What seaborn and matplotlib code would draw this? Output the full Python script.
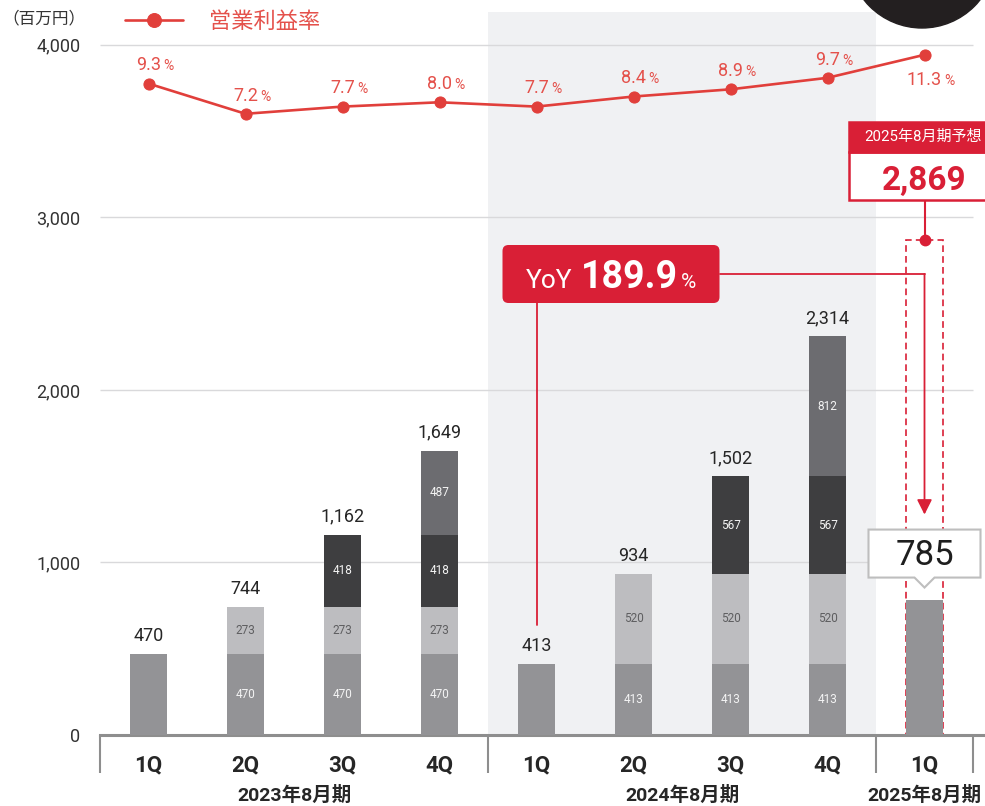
import numpy as np
import pandas as pd
import matplotlib
matplotlib.use("Agg")
import matplotlib.pyplot as plt
import seaborn as sns
from matplotlib.patches import FancyBboxPatch, Rectangle, Polygon, Ellipse
from matplotlib.transforms import Affine2D, blended_transform_factory

# ---------------- data ----------------
fiscal_years = ["2023年8月期", "2024年8月期", "2025年8月期"]
period_year = [0, 0, 0, 0, 1, 1, 1, 1, 2]
quarter_labels = ["1Q", "2Q", "3Q", "4Q", "1Q", "2Q", "3Q", "4Q", "1Q"]
period_keys = [f"{fiscal_years[y]} {q}" for y, q in zip(period_year, quarter_labels)]

# operating income contributed by each quarter (cumulative bars, 百万円)
seg_q1 = [470, 470, 470, 470, 413, 413, 413, 413, 785]
seg_q2 = [0, 273, 273, 273, 0, 520, 520, 520, 0]
seg_q3 = [0, 0, 418, 418, 0, 0, 567, 567, 0]
seg_q4 = [0, 0, 0, 487, 0, 0, 0, 812, 0]
cumulative_totals = [470, 744, 1162, 1649, 413, 934, 1502, 2314, 785]

margin_pct = [9.3, 7.2, 7.7, 8.0, 7.7, 8.4, 8.9, 9.7, 11.3]
forecast_fy25 = 2869
yoy_growth = 189.9

# ---------------- style ----------------
COL_Q1, COL_Q2, COL_Q3, COL_Q4 = "#939396", "#BDBDC0", "#3E3E40", "#6C6C70"
LINE_RED = "#E13F3B"
LABEL_RED = "#E4514B"
BOX_RED = "#D91F36"
AXIS_GRAY = "#8E8E8E"
TEXT_DARK = "#262626"

sns.set_style("white")
plt.rcParams["font.family"] = ["Roboto", "Noto Sans CJK JP", "DejaVu Sans"]

FIG_W, FIG_H = 985, 806
fig = plt.figure(figsize=(FIG_W / 100, FIG_H / 100), dpi=100)
AX_L, AX_B, AX_W, AX_H = 100, 71, 885, 735
ax = fig.add_axes([AX_L / FIG_W, AX_B / FIG_H, AX_W / FIG_W, AX_H / FIG_H])

YTOP = 4260
XLIM = (-0.5, -0.5 + AX_W / 97)
PX_X = (XLIM[1] - XLIM[0]) / AX_W   # data units per pixel
PX_Y = YTOP / AX_H

# margin axis: 0 % sits at 3,000 on the main scale, 1 pt = 83.4 units
PCT_BASE, PCT_UNIT = 3000, 83.4

# ---------------- bars ----------------
df = pd.DataFrame({"period": period_keys, "q1": seg_q1, "q2": seg_q2,
                   "q3": seg_q3, "q4": seg_q4})
df["c1"] = df["q1"]
df["c2"] = df["c1"] + df["q2"]
df["c3"] = df["c2"] + df["q3"]
df["c4"] = df["c3"] + df["q4"]

# fiscal 2024 band
ax.add_patch(Rectangle((3.5, 0), 4, 4190, fc="#F0F1F3", ec="none", zorder=0))
ax.hlines([1000, 2000, 3000, 4000], -0.5, 8.5, color="#D9D9DB", lw=1, zorder=1)

# forecast outline
n_before = len(ax.patches)
fc_df = pd.DataFrame({"period": [period_keys[8]], "value": [forecast_fy25]})
sns.barplot(data=fc_df, x="period", y="value", order=period_keys, color=BOX_RED,
            width=0.39, errorbar=None, saturation=1, fill=False, ax=ax, zorder=2.5)
for p in ax.patches[n_before:]:
    p.set_facecolor("none")
    p.set_edgecolor(BOX_RED)
    p.set_linewidth(1.2)
    p.set_linestyle((0, (4, 2.5)))

for col, colr in [("c4", COL_Q4), ("c3", COL_Q3), ("c2", COL_Q2), ("c1", COL_Q1)]:
    sns.barplot(data=df, x="period", y=col, order=period_keys, color=colr,
                width=0.39, errorbar=None, saturation=1, linewidth=0, ax=ax, zorder=3)

ax.set_xlim(*XLIM)
ax.set_ylim(0, YTOP)
ax.set_xlabel("")
ax.set_ylabel("")

# segment labels inside multi-quarter bars
for i in range(len(period_keys)):
    segs = [seg_q1[i], seg_q2[i], seg_q3[i], seg_q4[i]]
    if sum(1 for s in segs if s > 0) < 2:
        continue
    base = 0
    for k, s in enumerate(segs):
        if s <= 0:
            continue
        ax.text(i, base + s / 2, f"{s}", ha="center", va="center", fontsize=8.5,
                color="#5E5E60" if k == 1 else "#F4F4F4", zorder=4)
        base += s

# totals above bars
for i in range(8):
    top = df["c4"][i]
    ax.annotate(f"{cumulative_totals[i]:,}", (i, top), xytext=(0, 9.4),
                textcoords="offset points", ha="center", va="baseline",
                fontsize=13, color=TEXT_DARK, zorder=5)

# ---------------- axes styling ----------------
yticks = [0, 1000, 2000, 3000, 4000]
ax.set_yticks(yticks)
ax.set_yticklabels([f"{v:,}" for v in yticks])
ax.tick_params(axis="y", length=0, pad=14, labelsize=13, labelcolor="#333333")
ax.set_xticks(range(len(period_keys)))
ax.set_xticklabels(quarter_labels, fontweight="bold", fontsize=16, color=TEXT_DARK)
ax.tick_params(axis="x", length=0, pad=14)
for s in ["top", "right", "left"]:
    ax.spines[s].set_visible(False)
ax.spines["bottom"].set_color(AXIS_GRAY)
ax.spines["bottom"].set_linewidth(2.2)

trans = blended_transform_factory(ax.transData, ax.transAxes)
for xs in [-0.5, 3.5, 7.5, 8.5]:
    ax.plot([xs, xs], [0, -38 / AX_H], transform=trans, color=AXIS_GRAY,
            lw=1.5, clip_on=False, solid_capstyle="butt")
for yi, lab in enumerate(fiscal_years):
    xc = np.mean([i for i, y in enumerate(period_year) if y == yi])
    ax.text(xc, -60 / AX_H, lab, transform=trans, ha="center", va="center",
            fontsize=14, fontweight="bold", color=TEXT_DARK)

# ---------------- margin line ----------------
ax2 = ax.twinx()
sns.lineplot(x=np.arange(len(margin_pct)), y=margin_pct, ax=ax2, color=LINE_RED,
             linewidth=1.9, marker="o", markersize=8, markeredgecolor=LINE_RED,
             sort=False, label="営業利益率")
ax2.set_ylim((0 - PCT_BASE) / PCT_UNIT, (YTOP - PCT_BASE) / PCT_UNIT)
ax2.set_xlim(*XLIM)
ax2.set_yticks([])
ax2.set_ylabel("")
for s in ax2.spines.values():
    s.set_visible(False)

renderer = fig.canvas.get_renderer()
for i, p in enumerate(margin_pct):
    dy = -21.5 if i == len(margin_pct) - 1 else 9.5
    t = ax2.annotate(f"{p:.1f}", (i, p), xytext=(0, dy), textcoords="offset points",
                     ha="center", va="baseline", fontsize=13, color=LABEL_RED)
    w = t.get_window_extent(renderer).width
    ax2.annotate("%", (i, p), xytext=(w / 2 * 0.72 + 1.5, dy), textcoords="offset points",
                 ha="left", va="baseline", fontsize=10, color=LABEL_RED)

leg = ax2.legend(loc="center left", bbox_to_anchor=(125 / FIG_W, 1 - 22 / FIG_H),
                 bbox_transform=fig.transFigure, frameon=False, borderpad=0,
                 borderaxespad=0, handlelength=2.6, handletextpad=1.2,
                 prop={"size": 16})
for t in leg.get_texts():
    t.set_color(LABEL_RED)
for h in leg.legend_handles:
    h.set_markersize(10)

fig.text(2 / FIG_W, 1 - 18 / FIG_H, "（百万円）", fontsize=12, ha="left", va="center",
         color="#333333")


# ---------------- callouts ----------------
def centered_runs(axis, x, y, runs, color, zorder=8):
    items, total = [], 0
    for s, size, weight, gap in runs:
        t = axis.text(x, y, s, fontsize=size, fontweight=weight, color=color,
                      ha="left", va="baseline", zorder=zorder)
        w = t.get_window_extent(renderer).width
        items.append((t, w, gap))
        total += w + gap
    off = -total / 2
    for t, w, gap in items:
        t.set_transform(axis.transData + Affine2D().translate(off, 0))
        off += w + gap


# forecast box
fx = 8
fb_bottom = forecast_fy25 + 40 * PX_Y
fb_mid = fb_bottom + 48 * PX_Y
fb_half = 76 * PX_X
ax.plot([fx, fx], [forecast_fy25, fb_bottom], color=BOX_RED, lw=1.5, zorder=6)
ax.plot([fx], [forecast_fy25], marker="o", ms=7.5, color=BOX_RED, zorder=7)
ax.add_patch(Rectangle((fx - fb_half, fb_bottom), 2 * fb_half, 48 * PX_Y, fc="white",
                       ec=BOX_RED, lw=1.8, zorder=6, clip_on=False))
ax.add_patch(Rectangle((fx - fb_half, fb_mid), 2 * fb_half, 30 * PX_Y, fc=BOX_RED,
                       ec=BOX_RED, lw=1.8, zorder=6, clip_on=False))
ax.text(fx - 2 * PX_X, fb_mid + 15 * PX_Y, "2025年8月期予想", ha="center", va="center",
        color="white", fontsize=10.8, zorder=7, clip_on=False)
ax.text(fx, fb_bottom + 10 * PX_Y, f"{forecast_fy25:,}", ha="center", va="baseline",
        color=BOX_RED, fontsize=24, fontweight="bold", zorder=7)

# current-quarter value callout
cur = 8
cur_top = df["c4"][cur]
tip_y = cur_top + 12 * PX_Y
cb_bottom = tip_y + 10 * PX_Y
cb_top = cb_bottom + 48 * PX_Y
hw, nw = 56 * PX_X, 10 * PX_X
verts = [(cur - hw, cb_bottom), (cur - nw, cb_bottom), (cur, tip_y),
         (cur + nw, cb_bottom), (cur + hw, cb_bottom), (cur + hw, cb_top),
         (cur - hw, cb_top)]
ax.add_patch(Polygon(verts, closed=True, fc="white", ec="#BEBEBE", lw=1.5,
                     zorder=6, joinstyle="miter"))
ax.text(cur, cb_bottom + 12.5 * PX_Y, f"{cumulative_totals[cur]:,}", ha="center",
        va="baseline", fontsize=25, color="#1E1E1E", zorder=7)

# YoY badge
ref = 4
yoy_left = ref - 34 * PX_X
yoy_w = 217 * PX_X
yoy_bottom = (AX_H - 303) * PX_Y
yoy_h = 58 * PX_Y
yoy_mid = yoy_bottom + yoy_h / 2
ax.add_patch(FancyBboxPatch((yoy_left, yoy_bottom), yoy_w, yoy_h,
                            boxstyle=f"round,pad=0,rounding_size={6 * PX_X}",
                            mutation_aspect=PX_Y / PX_X, fc=BOX_RED, ec="none", zorder=6))
ax.plot([ref, ref], [yoy_bottom, seg_q1[ref] + 225], color=BOX_RED, lw=1.3, zorder=5)
ax.plot([yoy_left + yoy_w, cur], [yoy_mid, yoy_mid], color=BOX_RED, lw=1.3, zorder=5)
ax.annotate("", xy=(cur, cb_top + 15 * PX_Y), xytext=(cur, yoy_mid),
            arrowprops=dict(arrowstyle="-|>,head_length=0.9,head_width=0.45",
                            color=BOX_RED, lw=1.3, shrinkA=0, shrinkB=0,
                            mutation_scale=10), zorder=6)
centered_runs(ax, yoy_left + yoy_w / 2, yoy_bottom + 15 * PX_Y,
              [("YoY", 19, "normal", 9), (f"{yoy_growth:.1f}", 27, "bold", 3),
               ("%", 15, "normal", 0)], "white")

# corner mark
fig.add_artist(Ellipse((922 / FIG_W, 1 + 46 / FIG_H), 148 / FIG_W, 148 / FIG_H,
                       transform=fig.transFigure, color="#231F20", zorder=10))

fig.savefig("out.png", dpi=100)
